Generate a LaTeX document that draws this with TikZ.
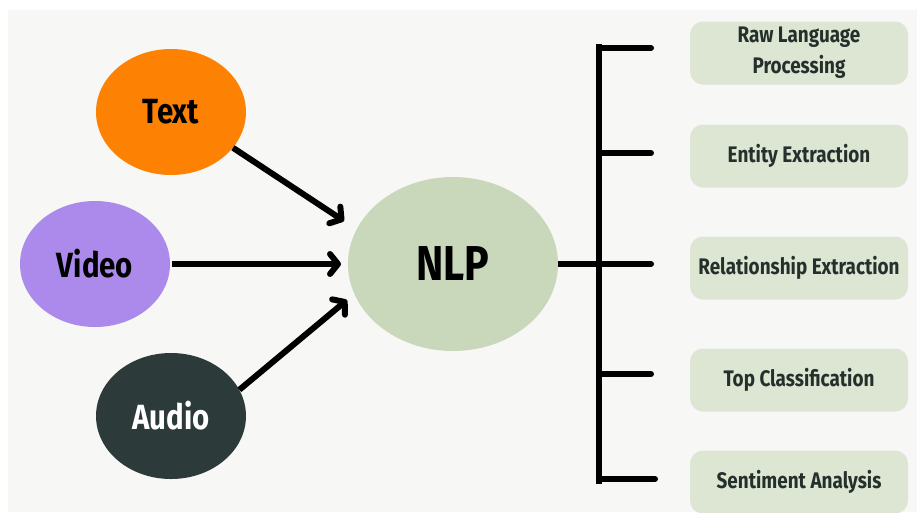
\documentclass[tikz,border=0pt]{standalone}
\usepackage{fontspec}
\setmainfont{Fira Sans}[FakeStretch=0.84]
\usepackage{tikz}
\usetikzlibrary{shapes.geometric,arrows.meta,calc}
\definecolor{bgcol}{HTML}{F7F7F5}
\definecolor{txtcol}{HTML}{FD8204}
\definecolor{vidcol}{HTML}{AB8AEC}
\definecolor{audcol}{HTML}{2C3A3A}
\definecolor{nlpcol}{HTML}{C9D8BA}
\definecolor{boxcol}{HTML}{DCE6D2}
\definecolor{inkcol}{HTML}{25302C}

\begin{document}
\begin{tikzpicture}[x=1pt,y=-1pt,
  src/.style={ellipse,inner sep=0pt,minimum width=150pt,minimum height=126pt,font=\fontsize{35}{35}\selectfont\bfseries},
  task/.style={rounded corners=13pt,fill=boxcol,minimum width=218pt,minimum height=63pt,inner sep=0pt,align=center,text=inkcol,font=\fontsize{22.5}{31}\selectfont\bfseries},
  arr/.style={line width=6pt,-{Straight Barb[length=8pt,width=20pt,line cap=round,line join=round]}},
  tick/.style={line width=6pt,line cap=round}]
\useasboundingbox (0,0) rectangle (917,512);
\fill[white] (0,0) rectangle (917,512);
\fill[bgcol] (8,10) rectangle (917,512);

\node[src,fill=txtcol] (txt) at (171,112) {Text};
\node[src,fill=vidcol] (video) at (95,264) {Video};
\node[src,fill=audcol,text=white] (audio) at (171,416) {Audio};
\node[ellipse,fill=nlpcol,inner sep=0pt,minimum width=210pt,minimum height=174pt,font=\fontsize{49}{49}\selectfont\bfseries] (nlp) at (453,264) {NLP};

\coordinate (tin) at (344,221);
\coordinate (vin) at (341,264);
\coordinate (ain) at (347,300);
\draw[arr] (txt.-30) -- (tin);
\draw[arr,shorten <=2pt] (video) -- (vin);
\draw[arr] (audio.21) -- (ain);

\node[task] (b1) at (799,53) {Raw Language\\Processing};
\node[task] (b2) at (799,156) {Entity Extraction};
\node[task] (b3) at (799,268) {Relationship Extraction};
\node[task] (b4) at (799,380) {Top Classification};
\node[task] (b5) at (799,482) {Sentiment Analysis};

\coordinate (top) at (599,44);
\coordinate (bot) at (599,484);
\draw[line width=6pt] (top) -- (bot);
\draw[line width=6pt] (nlp.east) -- (599,264);
\foreach \y/\len in {48/52,153/52,264/52,374/52,479/56}
  \draw[tick] (599,\y) -- ++(\len,0);
\end{tikzpicture}
\end{document}
